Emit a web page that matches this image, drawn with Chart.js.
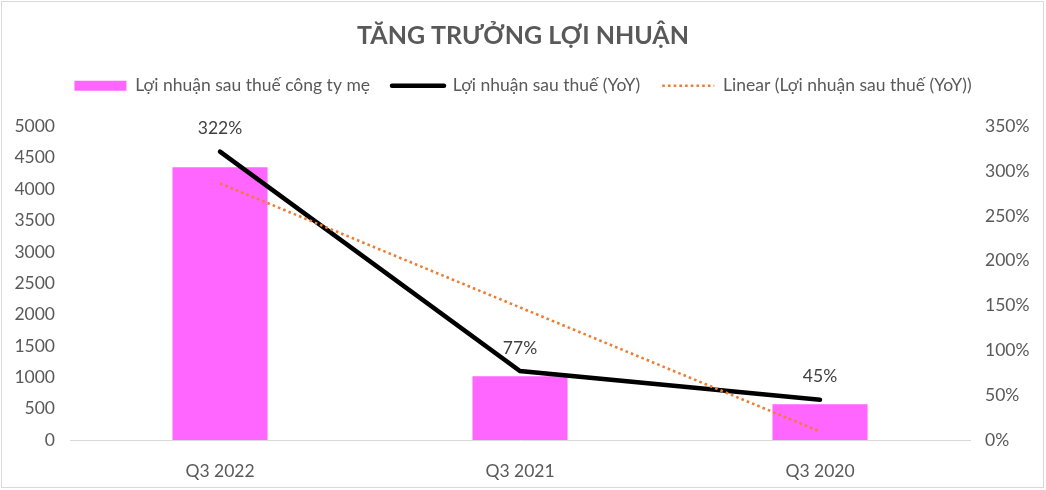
<!DOCTYPE html>
<html>
<head>
<meta charset="utf-8">
<script src="https://cdn.jsdelivr.net/npm/chart.js@4"></script>
<style>
html,body{margin:0;padding:0;background:#fff;}
#wrap{width:1046px;height:490px;position:relative;}
</style>
</head>
<body>
<div id="wrap"><canvas id="c" width="1046" height="490"></canvas></div>
<script>
const categories = ["Q3 2022", "Q3 2021", "Q3 2020"];
const profitParent = [4350, 1015, 570];
const profitYoY = [322, 77, 45];
const trendYoY = [286.5, 148, 9.5];
const seriesNames = ["Lợi nhuận sau thuế công ty mẹ", "Lợi nhuận sau thuế (YoY)", "Linear (Lợi nhuận sau thuế (YoY))"];
const titleText = "TĂNG TRƯỞNG LỢI NHUẬN";

const FONT = "Lato, 'Open Sans', sans-serif";
const TXT = "#595959";
const FS = 17.5;
const TREND_DASH = [2.6, 3.1];

const borderPlugin = {
  id: 'frame',
  afterInit(chart) {
    const lg = chart.legend;
    if (lg && !lg._patched) {
      const origFit = lg.fit;
      lg.fit = function () { origFit.apply(this, arguments); this.height += 22; };
      lg._patched = true;
    }
  },
  beforeDraw(chart) {
    const ctx = chart.ctx;
    ctx.save();
    ctx.fillStyle = '#fff';
    ctx.fillRect(0, 0, chart.width, chart.height);
    ctx.strokeStyle = '#d9d9d9';
    ctx.lineWidth = 1;
    ctx.strokeRect(1.5, 1.5, chart.width - 4, chart.height - 4);
    ctx.restore();
  }
};

const labelPlugin = {
  id: 'pctLabels',
  afterDatasetsDraw(chart) {
    const meta = chart.getDatasetMeta(1);
    const ctx = chart.ctx;
    ctx.save();
    ctx.font = FS + "px " + FONT;
    ctx.fillStyle = "#404040";
    ctx.textAlign = 'center';
    ctx.textBaseline = 'middle';
    meta.data.forEach((pt, i) => {
      ctx.fillText(profitYoY[i] + '%', pt.x, pt.y - 23);
    });
    ctx.restore();
  }
};

const chart = new Chart(document.getElementById('c'), {
  type: 'bar',
  data: {
    labels: categories,
    datasets: [
      {
        type: 'bar',
        label: seriesNames[0],
        data: profitParent,
        backgroundColor: '#FF66FF',
        borderWidth: 0,
        yAxisID: 'y',
        categoryPercentage: 1,
        barPercentage: 0.317,
        order: 3
      },
      {
        type: 'line',
        label: seriesNames[1],
        data: profitYoY,
        borderColor: '#000000',
        backgroundColor: '#000000',
        borderWidth: 4.5,
        pointRadius: 0,
        borderCapStyle: 'round',
        tension: 0,
        yAxisID: 'y1',
        order: 2
      },
      {
        type: 'line',
        label: seriesNames[2],
        data: trendYoY,
        borderColor: '#ED7D31',
        backgroundColor: '#ED7D31',
        borderWidth: 2.6,
        borderDash: TREND_DASH,
        borderCapStyle: 'butt',
        pointRadius: 0,
        tension: 0,
        yAxisID: 'y1',
        order: 1
      }
    ]
  },
  options: {
    responsive: false,
    animation: false,
    layout: { padding: { left: 0, right: 0, top: 0, bottom: 0 } },
    plugins: {
      tooltip: { enabled: false },
      title: {
        display: true,
        text: titleText,
        color: TXT,
        font: { family: FONT, size: 25, weight: 'bold' },
        padding: { top: 21, bottom: 4 }
      },
      legend: {
        display: true,
        position: 'top',
        labels: {
          color: TXT,
          font: { family: FONT, size: FS },
          usePointStyle: true,
          pointStyleWidth: 52,
          boxHeight: 10,
          padding: 22,
          sort: (a, b) => a.datasetIndex - b.datasetIndex,
          generateLabels(chart) {
            return chart.data.datasets.map((ds, i) => {
              if (i === 0) {
                return { text: ds.label, datasetIndex: i, pointStyle: 'rect', fillStyle: ds.backgroundColor, strokeStyle: ds.backgroundColor, lineWidth: 0, fontColor: TXT };
              }
              return { text: ds.label, datasetIndex: i, pointStyle: 'line', fillStyle: ds.borderColor, strokeStyle: ds.borderColor, lineWidth: i === 1 ? 4.5 : 2.6, lineDash: i === 2 ? TREND_DASH : [], lineCap: i === 1 ? 'round' : 'butt', fontColor: TXT };
            });
          }
        }
      }
    },
    scales: {
      x: {
        offset: true,
        grid: { display: false },
        border: { display: true, color: '#d9d9d9', width: 1 },
        ticks: { color: TXT, font: { family: FONT, size: FS }, padding: 13 },
        afterFit(s) { s.height = 50; }
      },
      y: {
        position: 'left',
        min: 0, max: 5000,
        grid: { display: false, drawTicks: false },
        border: { display: false },
        ticks: { stepSize: 500, color: TXT, font: { family: FONT, size: FS }, padding: 15, callback: v => String(v) },
        afterFit(s) { s.width = 70; }
      },
      y1: {
        position: 'right',
        min: 0, max: 350,
        grid: { display: false, drawTicks: false },
        border: { display: false },
        ticks: { stepSize: 50, color: TXT, font: { family: FONT, size: FS }, padding: 15, callback: v => v + '%' },
        afterFit(s) { s.width = 76; }
      }
    }
  },
  plugins: [borderPlugin, labelPlugin]
});
chart.update();
</script>
</body>
</html>
